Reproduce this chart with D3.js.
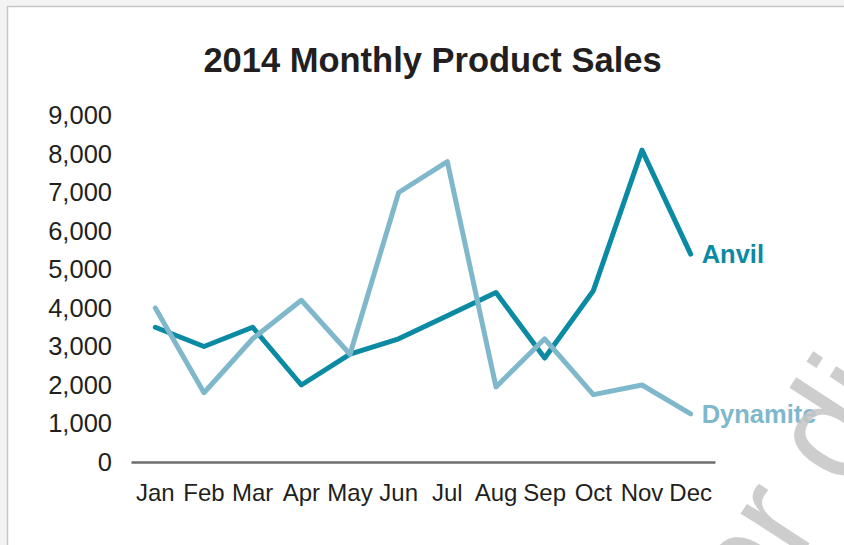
<!DOCTYPE html>
<html>
<head>
<meta charset="utf-8">
<script src="https://cdn.jsdelivr.net/npm/d3@7"></script>
<style>
  html, body { margin: 0; padding: 0; background: #f3f3f3; }
  svg { display: block; }
</style>
</head>
<body>
<svg id="chart" width="844" height="545"></svg>
<script>
const months = ["Jan","Feb","Mar","Apr","May","Jun","Jul","Aug","Sep","Oct","Nov","Dec"];
const anvil = [3500, 3000, 3500, 2000, 2800, 3200, 3800, 4400, 2700, 4450, 8100, 5400];
const dynamite = [4000, 1800, 3200, 4200, 2800, 7000, 7800, 1950, 3200, 1750, 2000, 1250];
const yTicks = [0, 1000, 2000, 3000, 4000, 5000, 6000, 7000, 8000, 9000];
const seriesNames = ["Anvil", "Dynamite"];
const colors = ["#0b8ba3", "#7fb8cb"];
const title = "2014 Monthly Product Sales";
const watermark = "Not for distribution";

const svg = d3.select("#chart");

// panel
svg.append("rect").attr("x", 7.5).attr("y", 6.5).attr("width", 900).attr("height", 600)
  .attr("fill", "#ffffff").attr("stroke", "#c6c6c6").attr("stroke-width", 1.5);

const x = d3.scaleBand().domain(months).range([131, 715]);
const y = d3.scaleLinear().domain([0, 9000]).range([462, 115.5]);
const font = "'Liberation Sans', Arial, sans-serif";

// title
svg.append("text").attr("x", 432.5).attr("y", 72).attr("text-anchor", "middle")
  .attr("font-family", font).attr("font-weight", "bold").attr("font-size", 34.5)
  .attr("fill", "#231f20").text(title);

// y axis (labels only)
const yAxis = d3.axisLeft(y).tickValues(yTicks).tickFormat(d3.format(",")).tickSize(0).tickPadding(0);
const yg = svg.append("g").attr("transform", "translate(112,0)").call(yAxis);
yg.select(".domain").remove();
yg.selectAll("text").attr("font-family", font).attr("font-size", 25.5).attr("fill", "#231f20");

// x axis
const xAxis = d3.axisBottom(x).tickSize(0).tickPadding(22);
const xg = svg.append("g").attr("transform", "translate(0," + y(0) + ")").call(xAxis);
xg.select(".domain").attr("stroke", "#6d6d6d").attr("stroke-width", 2.5);
xg.selectAll("text").attr("font-family", font).attr("font-size", 24).attr("fill", "#231f20");

const line = d3.line().x((d, i) => x(months[i]) + x.bandwidth() / 2).y(d => y(d));
const data = [anvil, dynamite];

data.forEach((vals, k) => {
  svg.append("path").datum(vals).attr("d", line).attr("fill", "none")
    .attr("stroke", colors[k]).attr("stroke-width", 5)
    .attr("stroke-linejoin", "round").attr("stroke-linecap", "round");
  svg.append("text")
    .attr("x", x(months[11]) + x.bandwidth() / 2 + 11)
    .attr("y", y(vals[11])).attr("dy", "0.35em")
    .attr("font-family", font).attr("font-weight", "bold").attr("font-size", 25.5)
    .attr("fill", colors[k]).text(seriesNames[k]);
});

// watermark
svg.append("text")
  .attr("transform", "translate(594,875) rotate(-57)")
  .attr("font-family", font).attr("font-size", 140)
  .attr("fill", "#c4c4c4").attr("fill-opacity", 0.85).text(watermark);
</script>
</body>
</html>
